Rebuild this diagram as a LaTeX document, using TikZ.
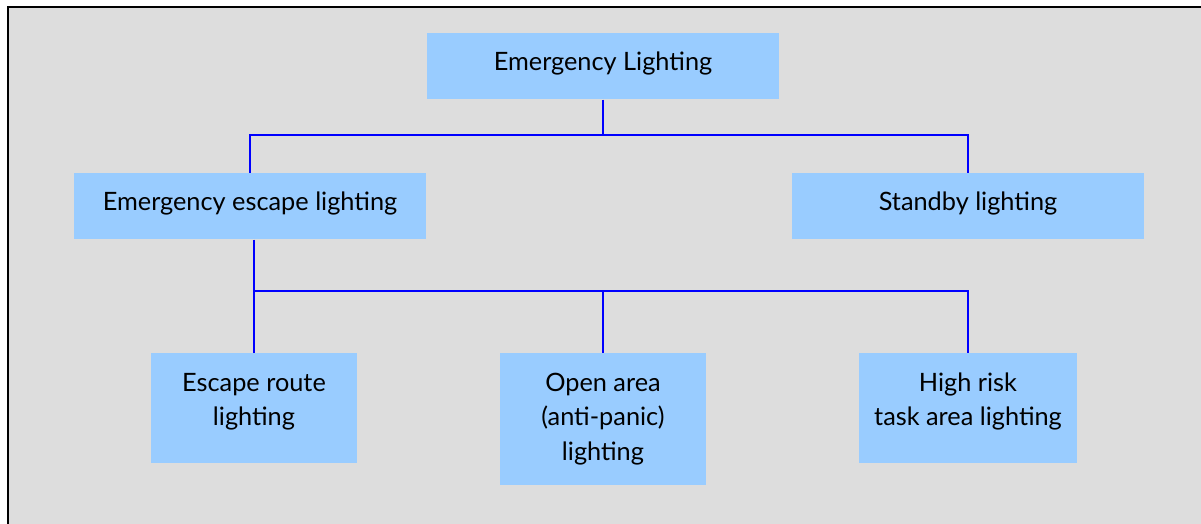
\documentclass[tikz,border=0pt]{standalone}
\usepackage{fontspec}
\setmainfont{Lato}
\usepackage{tikz}
\usetikzlibrary{positioning,calc}

\definecolor{boxblue}{RGB}{153,204,255}
\definecolor{panelgray}{RGB}{221,221,221}
\definecolor{linkblue}{RGB}{0,0,255}

\tikzset{
  lightbox/.style={fill=boxblue, draw=none, align=center, anchor=north,
    inner xsep=0pt, inner ysep=0pt,
    font=\fontsize{18}{24.5}\selectfont},
  wide/.style={lightbox, minimum width=8.8cm, text height=0.94cm, text depth=0.71cm},
  twoline/.style={lightbox, text height=1.804cm, text depth=0.946cm},
  threeline/.style={lightbox, text height=2.669cm, text depth=0.631cm},
  link/.style={linkblue, line width=1.5pt}
}

\begin{document}
\begin{tikzpicture}[x=0.025cm, y=-0.025cm]
  \useasboundingbox (0,0) rectangle (1201,524);
  % panel
  \fill[panelgray] (8,7) rectangle (1201,524);
  \draw[line width=1.8pt] (8,524) -- (8,7) -- (1201,7);

  % first level (anchored at the top edge)
  \node[wide] (top) at (603,33) {Emergency Lighting};
  \node[wide] (escape) at (250,173) {Emergency escape lighting};
  \node[wide] (standby) at (968,173) {Standby lighting};

  % second level
  \node[twoline, minimum width=5.125cm] (route) at (254,353) {Escape route\\lighting};
  \node[threeline, minimum width=5.15cm] (open) at (603,353) {Open area\\(anti-panic)\\lighting};
  \node[twoline, minimum width=5.425cm] (risk) at (968,353) {High risk\\task area lighting};

  % connectors
  \coordinate (hub) at (top.south |- 0,135);
  \draw[link] (top.south) -- (hub);
  \draw[link] (hub) -| (escape.north);
  \draw[link] (hub) -| (standby.north);

  \coordinate (split) at (route.north |- 0,291);
  \draw[link] (escape.south -| route.north) -- (split);
  \draw[link] (split) -| (route.north);
  \draw[link] (split) -| (open.north);
  \draw[link] (split) -| (risk.north);
\end{tikzpicture}
\end{document}
